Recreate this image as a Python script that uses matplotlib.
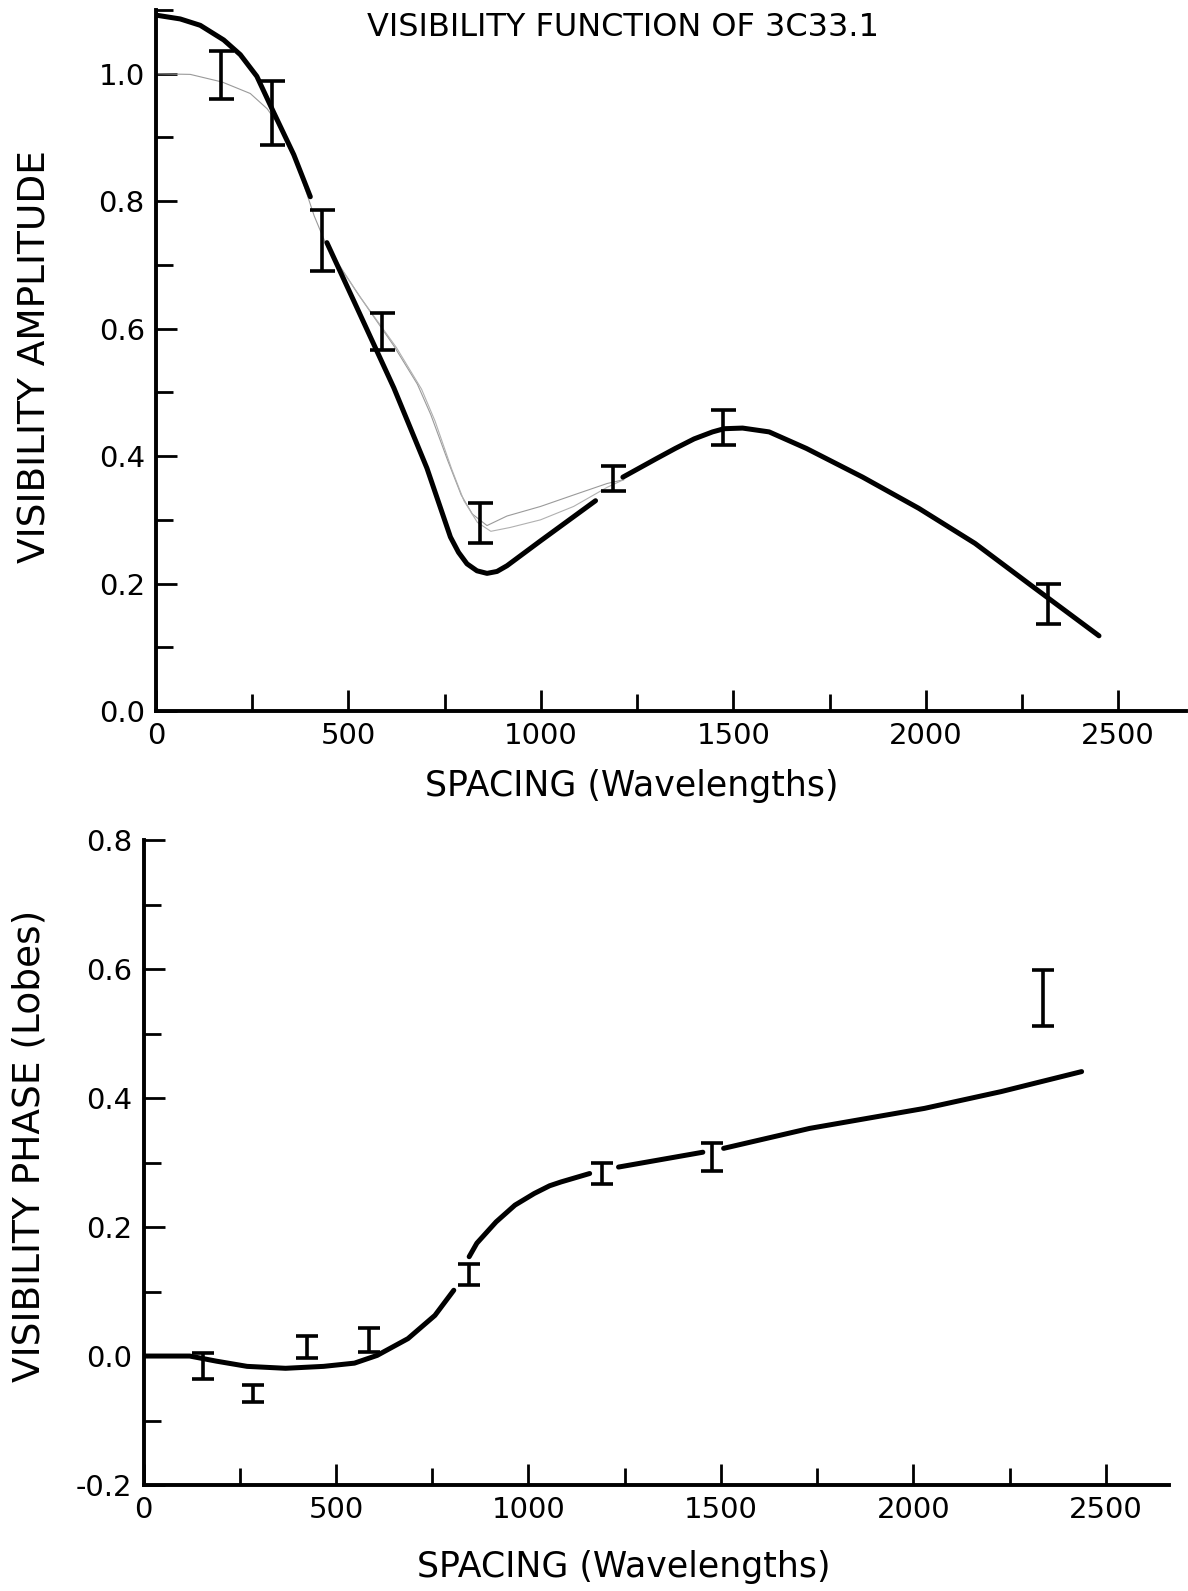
import numpy as np
import matplotlib
matplotlib.use("Agg")
import matplotlib.pyplot as plt
from matplotlib.ticker import MultipleLocator, FormatStrFormatter

plt.rcParams["font.family"] = ["DejaVu Sans"]
plt.rcParams["axes.unicode_minus"] = False

# --- amplitude panel data ---
amp_x = [170, 302, 431, 587, 843, 1188, 1474, 2318]
amp_y = [0.998, 0.938, 0.738, 0.596, 0.295, 0.365, 0.445, 0.168]
amp_err = [0.038, 0.050, 0.048, 0.029, 0.031, 0.020, 0.028, 0.031]

# model curve (nan = gap where it passes a point)
amp_fit_x = [0, 63, 115, 176, 219, 262, 306, 358, 401, np.nan,
             444, 522, 618, 704, 765, 786, 808, 834, 860, 886, 912, 999, 1142, np.nan,
             1213, 1300, 1349, 1398, 1446, 1476, 1524, 1593, 1690,
             1836, 1982, 2128, 2274, 2450]
amp_fit_y = [1.092, 1.086, 1.076, 1.053, 1.030, 0.996, 0.939, 0.873, 0.807, np.nan,
             0.735, 0.633, 0.507, 0.381, 0.273, 0.249, 0.231, 0.220, 0.216, 0.219,
             0.228, 0.267, 0.330, np.nan,
             0.367, 0.396, 0.412, 0.427, 0.438, 0.443, 0.444, 0.438, 0.412,
             0.367, 0.318, 0.263, 0.197, 0.118]

# faint pencil curves
thin1_x = [0, 89, 172, 245, 289, 324, 358, 411, 444, 522, 618, 679, 714, 758, 793,
           822, 860, 912, 999, 1085, 1172, 1215]
thin1_y = [1.0, 0.999, 0.987, 0.969, 0.945, 0.915, 0.873, 0.777, 0.729, 0.657, 0.573,
           0.513, 0.465, 0.393, 0.339, 0.309, 0.291, 0.306, 0.321, 0.339, 0.357, 0.363]
thin2_x = [444, 530, 625, 690, 725, 768, 800, 835, 870, 920, 999, 1085, 1172, 1215]
thin2_y = [0.729, 0.650, 0.570, 0.505, 0.455, 0.380, 0.330, 0.296, 0.282, 0.288,
           0.300, 0.321, 0.351, 0.363]

# --- phase panel data ---
ph_x = [155, 284, 424, 585, 846, 1190, 1478, 2337]
ph_y = [-0.015, -0.058, 0.014, 0.025, 0.126, 0.283, 0.309, 0.555]
ph_err = [0.020, 0.013, 0.017, 0.018, 0.016, 0.017, 0.022, 0.043]

ph_fit_x = [0, 120, 190, 269, 369, 468, 548, 607, 687, 757, 806, np.nan,
            846, 866, 916, 965, 1015, 1055, 1085, 1159, np.nan,
            1234, 1453, np.nan, 1507, 1731, 2029, 2228, 2437]
ph_fit_y = [0.0, 0.0, -0.008, -0.016, -0.019, -0.016, -0.011, 0.001, 0.027, 0.063,
            0.102, np.nan, 0.154, 0.175, 0.208, 0.234, 0.252, 0.264, 0.270, 0.283,
            np.nan, 0.293, 0.316, np.nan, 0.322, 0.353, 0.384, 0.410, 0.441]

W, H = 1188, 1591
fig = plt.figure(figsize=(W / 100, H / 100), dpi=100)
ax1 = fig.add_axes([0.1313, 0.5531, 0.8670, 0.4406])
ax2 = fig.add_axes([0.1208, 0.0666, 0.8632, 0.4054])


def style(ax, xmax, ylo, yhi):
    ax.set_xlim(0, xmax)
    ax.set_ylim(ylo, yhi)
    for s in ("top", "right"):
        ax.spines[s].set_visible(False)
    for s in ("left", "bottom"):
        ax.spines[s].set_linewidth(2.8)
    ax.xaxis.set_major_locator(MultipleLocator(500))
    ax.xaxis.set_minor_locator(MultipleLocator(250))
    ax.yaxis.set_major_locator(MultipleLocator(0.2))
    ax.yaxis.set_minor_locator(MultipleLocator(0.1))
    ax.yaxis.set_major_formatter(FormatStrFormatter("%.1f"))
    ax.tick_params(which="major", direction="in", length=15, width=2, labelsize=21, pad=8)
    ax.tick_params(which="minor", direction="in", length=12, width=2)


style(ax1, 2676, 0, 1.1)
style(ax2, 2664, -0.2, 0.8)

ax1.plot(thin1_x, thin1_y, color="#9a9a9a", lw=0.8)
ax1.plot(thin2_x, thin2_y, color="#b0b0b0", lw=0.8)
ax1.plot(amp_fit_x, amp_fit_y, color="black", lw=3.6, solid_capstyle="round",
         solid_joinstyle="round")
ax1.errorbar(amp_x, amp_y, yerr=amp_err, fmt="none", ecolor="black",
             elinewidth=2.6, capsize=9, capthick=2.6)

ax2.plot(ph_fit_x, ph_fit_y, color="black", lw=3.6, solid_capstyle="round",
         solid_joinstyle="round")
ax2.errorbar(ph_x, ph_y, yerr=ph_err, fmt="none", ecolor="black",
             elinewidth=2.6, capsize=8, capthick=2.6)

fig.text(623 / W, 1 - 28 / H, "VISIBILITY FUNCTION OF 3C33.1", fontsize=23,
         ha="center", va="center")
fig.text(632 / W, 1 - 786 / H, "SPACING (Wavelengths)", fontsize=25,
         ha="center", va="center")
fig.text(624 / W, 1 - 1567 / H, "SPACING (Wavelengths)", fontsize=25,
         ha="center", va="center")
fig.text(36 / W, 1 - 357 / H, "VISIBILITY AMPLITUDE", fontsize=27,
         rotation=90, ha="center", va="center")
fig.text(30 / W, 1 - 1146 / H, "VISIBILITY PHASE (Lobes)", fontsize=27,
         rotation=90, ha="center", va="center")

fig.savefig("out.png", dpi=100)
